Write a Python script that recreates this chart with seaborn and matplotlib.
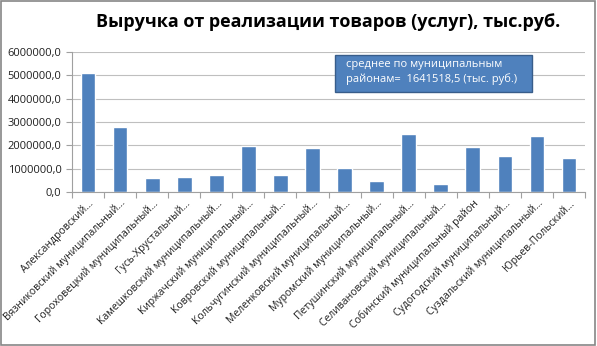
import matplotlib
matplotlib.use("Agg")
import matplotlib.pyplot as plt
import matplotlib.ticker as mticker
from matplotlib.patches import Rectangle
import seaborn as sns
import pandas as pd
import numpy as np

districts = [
    "Александровский…",
    "Вязниковский муниципальный…",
    "Гороховецкий муниципальный…",
    "Гусь-Хрустальный…",
    "Камешковский муниципальный…",
    "Киржачский муниципальный…",
    "Ковровский муниципальный…",
    "Кольчугинский муниципальный…",
    "Меленковский муниципальный…",
    "Муромский муниципальный…",
    "Петушинский муниципальный…",
    "Селивановский муниципальный…",
    "Собинский муниципальный район",
    "Судогодский муниципальный…",
    "Суздальский муниципальный…",
    "Юрьев-Польский…",
]
revenue = [5100000, 2790000, 580000, 660000, 740000, 1990000, 710000, 1900000,
           1010000, 480000, 2490000, 330000, 1930000, 1530000, 2400000, 1450000]
y_ticks = [0, 1000000, 2000000, 3000000, 4000000, 5000000, 6000000]
title = "Выручка от реализации товаров (услуг), тыс.руб."
note = "среднее по муниципальным\nрайонам=  1641518,5 (тыс. руб.)"

sns.set_style("white")
plt.rcParams["font.family"] = ["Open Sans", "DejaVu Sans"]

df = pd.DataFrame({"district": districts, "revenue": revenue})

fig = plt.figure(figsize=(5.97, 3.46), dpi=100)
ax = fig.add_axes([0.1206, 0.445, 0.8594, 0.405])
sns.barplot(data=df, x="district", y="revenue", color="#4F81BD", width=0.46,
            saturation=1, ax=ax)

ax.set_xlim(-0.5, len(districts) - 0.5)
ax.set_ylim(0, 6000000)
ax.set_yticks(y_ticks)
ax.yaxis.set_major_formatter(mticker.FuncFormatter(lambda v, p: f"{int(v)},0"))
ax.grid(axis="y", color="#BFBFBF", linewidth=0.8)
ax.set_axisbelow(True)
ax.set_xlabel("")
ax.set_ylabel("")

for s in ["top", "right"]:
    ax.spines[s].set_visible(False)
for s in ["left", "bottom"]:
    ax.spines[s].set_color("#A0A0A0")
    ax.spines[s].set_linewidth(0.8)

ax.set_xticks(range(len(districts)))
ax.set_xticklabels(districts, rotation=45, ha="right", rotation_mode="anchor",
                   fontsize=7.5, color="#202020")
ax.tick_params(axis="x", which="major", length=0, pad=4)
ax.set_xticks(np.arange(-0.5, len(districts), 1), minor=True)
ax.tick_params(axis="x", which="minor", length=4, color="#A0A0A0", width=0.8, bottom=True)
ax.tick_params(axis="y", length=4, color="#A0A0A0", width=0.8, labelsize=8,
               labelcolor="#202020", left=True)

fig.text(0.55, 0.935, title, ha="center", va="center", fontsize=13,
         fontweight="bold", color="black")

ax.add_patch(Rectangle((0.513, 0.714), 0.384, 0.265, transform=ax.transAxes,
                       facecolor="#4F81BD", edgecolor="#385D8A", linewidth=1,
                       zorder=5, clip_on=False))
ax.text(0.534, 0.95, note, transform=ax.transAxes, ha="left", va="top",
        fontsize=8, color="white", linespacing=1.4, zorder=6)

fig.patches.append(Rectangle((0.002, 0.003), 0.995, 0.994, transform=fig.transFigure,
                             fill=False, edgecolor="#868686", linewidth=1.2))

fig.savefig("out.png", dpi=100)
